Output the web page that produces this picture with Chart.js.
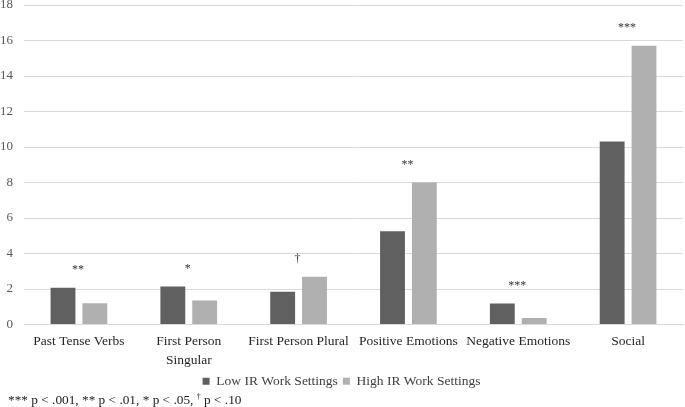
<!DOCTYPE html>
<html>
<head>
<meta charset="utf-8">
<script src="https://cdn.jsdelivr.net/npm/chart.js@4"></script>
<style>
  html, body { margin: 0; padding: 0; background: #fff; }
  #wrap { position: relative; width: 685px; height: 407px; }
  #note {
    position: absolute; left: 8px; top: 392px;
    font: 13.3px "Liberation Serif", "Times New Roman", serif; color: #222;
    white-space: nowrap;
  }
  #note sup { font-size: 8px; }
</style>
</head>
<body>
<div id="wrap">
  <canvas id="myChart" width="685" height="407"></canvas>
  <div id="note">*** p &lt; .001, ** p &lt; .01, * p &lt; .05, <sup>†</sup> p &lt; .10</div>
</div>
<script>
const categories = ["Past Tense Verbs", ["First Person", "Singular"], "First Person Plural",
  "Positive Emotions", "Negative Emotions", "Social"];
const lowIR = [2.07, 2.14, 1.84, 5.25, 1.18, 10.31];
const highIR = [1.2, 1.35, 2.69, 8.0, 0.36, 15.7];
const significance = ["**", "*", "†", "**", "***", "***"];
const yTicks = [0, 2, 4, 6, 8, 10, 12, 14, 16, 18];

const serif = "'Liberation Serif', 'Times New Roman', serif";

// draws the significance marks above each pair of bars
const sigMarks = {
  id: "sigMarks",
  afterDatasetsDraw(chart) {
    const ctx = chart.ctx;
    const y = chart.scales.y;
    const x = chart.scales.x;
    ctx.save();
    ctx.fillStyle = "#333";
    ctx.font = "12px " + serif;
    ctx.textAlign = "center";
    ctx.textBaseline = "middle";
    significance.forEach((s, i) => {
      const top = y.getPixelForValue(Math.max(lowIR[i], highIR[i]));
      ctx.fillText(s, x.getPixelForValue(i) - 1, top - 18);
    });
    ctx.restore();
  }
};

new Chart(document.getElementById("myChart"), {
  type: "bar",
  data: {
    labels: categories,
    datasets: [
      { label: "Low IR Work Settings", data: lowIR, backgroundColor: "#606060" },
      { label: "High IR Work Settings", data: highIR, backgroundColor: "#b0b0b0" }
    ]
  },
  options: {
    responsive: false,
    animation: false,
    layout: { padding: { top: 5, right: 2, bottom: 9, left: 0 } },
    datasets: { bar: { categoryPercentage: 0.58, barPercentage: 0.78 } },
    plugins: {
      tooltip: { enabled: false },
      legend: {
        position: "bottom",
        labels: {
          boxWidth: 7, boxHeight: 7, padding: 5,
          color: "#404040",
          font: { family: serif, size: 13.5 }
        }
      }
    },
    scales: {
      x: {
        grid: { display: false, drawTicks: false },
        border: { color: "#d9d9d9" },
        afterFit(axis) { axis.paddingLeft = 0; axis.paddingRight = 0; axis.height = 45; },
        ticks: { color: "#262626", font: { family: serif, size: 13.5, lineHeight: 1.4 }, maxRotation: 0, padding: 8 }
      },
      y: {
        min: 0, max: 18,
        afterBuildTicks(axis) { axis.ticks = yTicks.map(v => ({ value: v })); },
        afterFit(axis) { axis.paddingTop = 0; axis.width = 24; },
        grid: { color: "#d9d9d9", drawTicks: false },
        border: { display: false },
        ticks: { color: "#595959", font: { family: serif, size: 13 }, padding: 11 }
      }
    }
  },
  plugins: [sigMarks]
});
</script>
</body>
</html>
